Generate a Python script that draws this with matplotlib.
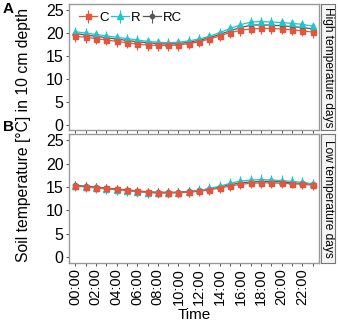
import matplotlib
matplotlib.use('Agg')
from matplotlib import pyplot as plt
import numpy as np

plt.rcParams['font.family'] = ['Liberation Sans', 'DejaVu Sans']

hours = np.arange(24)
tick_labels = ['%02d:00' % h if h % 2 == 0 else '' for h in hours]

# panel A: high temperature days
high_C = [19.2, 19.0, 18.7, 18.4, 18.1, 17.8, 17.5, 17.3, 17.2, 17.2, 17.3, 17.6,
          18.0, 18.6, 19.3, 20.0, 20.5, 20.8, 20.9, 20.9, 20.8, 20.6, 20.4, 20.1]
high_R = [20.2, 19.9, 19.6, 19.3, 19.0, 18.7, 18.4, 18.1, 17.9, 17.8, 17.9, 18.2,
          18.6, 19.2, 20.0, 20.9, 21.7, 22.3, 22.4, 22.3, 22.2, 22.0, 21.8, 21.4]
high_RC = [19.8, 19.5, 19.2, 18.9, 18.6, 18.3, 18.0, 17.8, 17.6, 17.5, 17.6, 17.9,
           18.3, 18.9, 19.6, 20.4, 21.1, 21.6, 21.7, 21.6, 21.5, 21.3, 21.1, 20.8]
high_C_err = [1.2] * 24
high_R_err = [1.0] * 24
high_RC_err = [0.9] * 24

# panel B: low temperature days
low_C = [15.3, 15.1, 14.9, 14.7, 14.5, 14.3, 14.1, 13.9, 13.8, 13.8, 13.8, 13.9,
         14.1, 14.4, 14.8, 15.2, 15.6, 15.8, 15.9, 15.9, 15.8, 15.7, 15.6, 15.4]
low_R = [15.2, 15.0, 14.8, 14.6, 14.4, 14.2, 14.0, 13.8, 13.7, 13.7, 13.8, 14.0,
         14.3, 14.7, 15.2, 15.8, 16.3, 16.5, 16.6, 16.5, 16.4, 16.2, 16.0, 15.7]
low_RC = [15.4, 15.2, 15.0, 14.8, 14.6, 14.4, 14.2, 14.0, 13.9, 13.9, 13.9, 14.1,
          14.3, 14.6, 15.0, 15.5, 15.9, 16.1, 16.2, 16.2, 16.1, 15.9, 15.8, 15.6]
low_C_err = [1.0] * 24
low_R_err = [1.1] * 24
low_RC_err = [0.9] * 24

col_C = '#E4553C'
col_R = '#1CC6D0'
col_RC = '#555555'

fig = plt.figure(figsize=(3.4, 3.24), dpi=100)
axA = fig.add_axes([0.203, 0.598, 0.735, 0.39])
axB = fig.add_axes([0.203, 0.188, 0.735, 0.397])


def draw(ax, C, R, RC, eC, eR, eRC, strip):
    for y, e, c, m, ms, lab in [(RC, eRC, col_RC, 'o', 3.0, 'RC'),
                                (R, eR, col_R, '^', 4.2, 'R'),
                                (C, eC, col_C, 's', 3.6, 'C')]:
        ax.errorbar(hours, y, yerr=e, color=c, marker=m, ms=ms, lw=0.9,
                    elinewidth=0.8, capsize=0, label=lab)
    ax.set_xlim(-0.6, 23.6)
    ax.set_ylim(-1.25, 26.25)
    ax.set_yticks([0, 5, 10, 15, 20, 25])
    ax.set_xticks(hours)
    ax.tick_params(labelsize=11.5, length=2.5, width=0.6, color='#333333', pad=1.5)
    ax.tick_params(axis='x', labelsize=10.5, pad=1)
    for s in ax.spines.values():
        s.set_color('#999999')
        s.set_linewidth(1.0)
    pos = ax.get_position()
    sax = fig.add_axes([pos.x1 + 0.006, pos.y0, 0.042, pos.height])
    sax.set_xticks([])
    sax.set_yticks([])
    sax.set_facecolor('#F4F4F4')
    for s in sax.spines.values():
        s.set_color('#777777')
    sax.text(0.5, 0.5, strip, rotation=-90, ha='center', va='center',
             fontsize=8.6, transform=sax.transAxes)


draw(axA, high_C, high_R, high_RC, high_C_err, high_R_err, high_RC_err,
     'High temperature days')
draw(axB, low_C, low_R, low_RC, low_C_err, low_R_err, low_RC_err,
     'Low temperature days')

axA.set_xticklabels([])
axB.set_xticklabels(tick_labels, rotation=90)
fig.text(0.57, 0.005, 'Time', ha='center', va='bottom', fontsize=11)
fig.text(0.068, 0.583, 'Soil temperature [\u00b0C] in 10 cm depth', rotation=90,
         ha='center', va='center', fontsize=11.3)

h, l = axA.get_legend_handles_labels()
axA.legend(h[::-1], l[::-1], loc='upper left', ncol=3, frameon=False,
           fontsize=9.5, handlelength=1.3, handletextpad=0.2, columnspacing=0.2,
           borderaxespad=0.2, bbox_to_anchor=(0.01, 1.0))

fig.text(0.008, 0.995, 'A', fontsize=11, fontweight='bold', va='top')
fig.text(0.008, 0.63, 'B', fontsize=11, fontweight='bold', va='top')

fig.savefig('out.png', dpi=100)
